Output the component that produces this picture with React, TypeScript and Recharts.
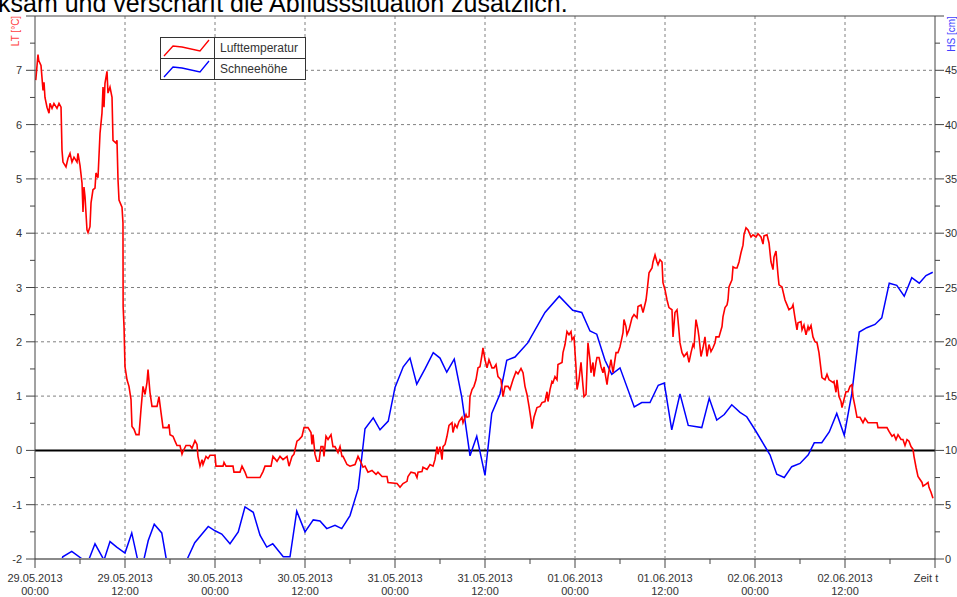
import { LineChart, Line, XAxis, YAxis, ReferenceLine, CartesianGrid } from "recharts";

// Lufttemperatur [°C], x = Stunden ab 29.05.2013 00:00
const TEMP: [number, number][] = [
  [0.1,6.82],[0.4,7.29],[0.5,7.18],[0.8,7.09],[1.07,6.63],[1.2,6.78],[1.33,6.5],[1.6,6.32],[1.87,6.21],[2.0,6.39],
  [2.27,6.3],[2.53,6.39],[2.93,6.3],[3.2,6.39],[3.47,6.32],[3.6,5.53],[3.73,5.31],[4.13,5.22],[4.4,5.38],[4.67,5.47],
  [4.93,5.31],[5.2,5.4],[5.6,5.31],[5.73,5.47],[6.0,5.25],[6.27,4.92],[6.4,4.39],[6.53,4.85],[6.67,4.67],[6.93,4.06],
  [7.07,4.01],[7.33,4.12],[7.47,4.56],[7.73,4.8],[8.0,4.83],[8.13,5.11],[8.4,5.02],[8.67,5.84],[8.93,6.21],[9.07,6.69],
  [9.2,6.32],[9.33,6.76],[9.6,6.98],[9.73,6.58],[10.0,6.69],[10.27,6.5],[10.4,5.71],[10.8,5.66],[10.93,5.71],[11.07,4.98],
  [11.2,4.61],[11.6,4.48],[11.73,4.19],[11.75,2.65],[11.87,2.28],[12.0,1.54],[12.27,1.3],[12.53,1.18],[12.8,0.94],[12.93,0.44],
  [13.2,0.39],[13.47,0.29],[13.87,0.29],[14.13,0.75],[14.4,1.18],[14.67,1.03],[14.93,1.25],[15.07,1.49],[15.33,1.07],[15.6,0.81],
  [16.27,0.81],[16.53,0.99],[16.8,0.7],[17.07,0.42],[17.73,0.42],[17.87,0.48],[18.0,0.29],[18.4,0.26],[18.67,0.17],[18.93,0.09],
  [19.33,0.09],[19.6,-0.07],[19.73,-0.02],[20.13,0.09],[20.67,0.09],[20.93,0.04],[21.33,0.18],[21.6,0.11],[21.73,-0.11],[22.0,-0.29],
  [22.27,-0.17],[22.4,-0.26],[22.8,-0.11],[23.07,-0.15],[23.33,-0.09],[24.0,-0.09],[24.13,-0.29],[25.07,-0.29],[25.2,-0.22],[25.47,-0.29],
  [26.4,-0.29],[26.53,-0.4],[27.33,-0.4],[27.6,-0.29],[28.0,-0.4],[28.27,-0.5],[30.0,-0.5],[30.4,-0.39],[30.67,-0.29],[31.47,-0.29],
  [31.73,-0.11],[32.27,-0.2],[32.67,-0.11],[33.07,-0.17],[33.6,-0.11],[33.87,-0.29],[34.27,-0.11],[34.53,-0.07],[34.93,0.17],[35.2,0.2],
  [35.6,0.26],[35.87,0.42],[36.4,0.42],[36.8,0.33],[36.93,0.11],[37.07,0.29],[37.33,-0.07],[37.6,-0.2],[37.87,-0.2],[38.13,0.07],
  [38.4,0.07],[38.53,-0.11],[38.8,0.26],[39.07,0.2],[39.47,0.29],[39.73,0.07],[40.0,0.07],[40.4,-0.04],[40.67,0.07],[40.93,-0.11],
  [41.07,-0.11],[41.6,-0.26],[42.0,-0.29],[42.67,-0.26],[43.07,-0.11],[43.47,-0.22],[43.73,-0.31],[44.0,-0.29],[44.4,-0.4],[44.93,-0.37],
  [45.47,-0.44],[45.73,-0.4],[46.27,-0.48],[46.93,-0.48],[47.07,-0.59],[48.27,-0.61],[48.67,-0.68],[49.07,-0.61],[49.6,-0.57],[49.73,-0.48],
  [50.13,-0.4],[50.67,-0.42],[50.93,-0.5],[51.07,-0.4],[51.6,-0.39],[51.73,-0.31],[52.27,-0.35],[52.67,-0.26],[53.07,-0.29],[53.33,-0.17],
  [53.6,0.07],[53.73,-0.07],[54.0,0.07],[54.27,-0.17],[54.4,0.07],[54.67,0.11],[54.93,0.26],[55.2,0.46],[55.6,0.51],[55.73,0.33],
  [56.0,0.48],[56.27,0.42],[56.53,0.53],[56.93,0.61],[57.07,0.51],[57.47,0.66],[57.6,0.61],[57.87,0.62],[58.0,0.99],[58.27,1.12],
  [58.53,1.18],[58.8,1.3],[59.07,1.52],[59.33,1.54],[59.6,1.76],[59.73,1.89],[60.0,1.67],[60.27,1.52],[60.53,1.67],[60.93,1.52],
  [61.2,1.52],[61.47,1.58],[61.73,1.36],[62.13,1.3],[62.4,0.99],[62.67,1.18],[63.07,1.18],[63.33,1.12],[63.73,1.3],[64.13,1.45],
  [64.4,1.41],[64.8,1.51],[65.07,1.43],[65.33,1.18],[65.6,1.03],[65.87,0.81],[66.13,0.57],[66.27,0.4],[66.53,0.61],[66.93,0.79],
  [67.33,0.81],[67.6,0.88],[68.0,0.9],[68.27,1.08],[68.4,0.9],[68.67,1.12],[68.93,1.27],[69.07,1.25],[69.33,1.36],[69.6,1.3],
  [69.73,1.58],[70.27,1.62],[70.4,1.8],[70.67,1.95],[70.93,2.19],[71.2,2.13],[71.47,2.19],[71.6,2.04],[71.87,2.09],[72.13,1.54],
  [72.27,1.12],[72.53,1.3],[72.8,1.62],[73.07,1.18],[73.2,0.99],[73.47,1.03],[73.73,1.98],[74.0,1.67],[74.13,1.43],[74.4,1.62],
  [74.53,1.36],[74.8,1.62],[74.93,1.71],[75.2,1.71],[75.47,1.54],[75.73,1.43],[75.87,1.54],[76.27,1.21],[76.4,1.36],[76.8,1.67],
  [77.07,1.43],[77.47,1.8],[77.73,1.8],[78.0,1.91],[78.4,2.17],[78.53,2.41],[78.8,2.28],[78.93,2.13],[79.2,2.22],[79.6,2.44],
  [79.87,2.5],[80.27,2.44],[80.4,2.65],[80.8,2.68],[81.07,2.54],[81.47,2.77],[81.6,2.92],[81.87,3.27],[82.27,3.36],[82.4,3.47],
  [82.67,3.6],[82.93,3.47],[83.07,3.42],[83.33,3.51],[83.6,3.47],[83.73,3.09],[84.0,2.96],[84.27,2.77],[84.53,2.63],[84.93,2.59],
  [85.07,2.09],[85.33,2.54],[85.6,2.59],[85.73,2.41],[86.0,1.98],[86.27,1.8],[86.53,1.73],[86.93,1.8],[87.2,1.62],[87.47,1.8],
  [87.73,1.95],[87.87,1.91],[88.13,2.41],[88.4,2.22],[88.53,2.09],[88.8,1.73],[89.07,1.89],[89.33,2.09],[89.6,1.73],[89.87,1.95],
  [90.13,1.82],[90.4,1.89],[90.67,1.98],[90.8,2.09],[91.2,2.09],[91.6,2.28],[91.73,2.46],[92.0,2.63],[92.27,2.68],[92.4,2.77],
  [92.53,3.01],[92.93,3.14],[93.07,3.38],[93.33,3.36],[93.6,3.36],[93.87,3.47],[94.13,3.64],[94.4,3.78],[94.53,3.97],[94.8,4.1],
  [95.07,4.06],[95.47,3.93],[95.73,3.97],[96.13,3.93],[96.4,3.99],[96.8,3.93],[97.07,3.8],[97.2,3.95],[97.6,3.97],[97.87,3.82],
  [98.13,3.47],[98.4,3.33],[98.53,3.56],[98.8,3.67],[99.07,3.23],[99.2,3.05],[99.6,3.01],[100.0,2.77],[100.27,2.68],[100.53,2.59],
  [100.93,2.63],[101.07,2.68],[101.33,2.44],[101.6,2.22],[101.73,2.35],[102.13,2.37],[102.27,2.22],[102.53,2.31],[102.8,2.13],[103.07,2.28],
  [103.2,2.22],[103.47,2.3],[103.73,2.09],[104.0,2.0],[104.27,1.98],[104.53,1.8],[104.93,1.34],[105.33,1.3],[105.6,1.4],[105.87,1.3],
  [106.4,1.25],[106.53,1.27],[106.8,1.07],[106.93,1.3],[107.2,0.99],[107.47,0.9],[107.6,0.79],[107.87,0.94],[108.13,1.08],[108.4,1.08],
  [108.67,1.18],[108.93,1.21],[109.07,0.99],[109.33,0.81],[109.6,0.61],[110.0,0.61],[110.4,0.51],[110.67,0.59],[111.07,0.51],[112.27,0.51],
  [112.4,0.42],[113.6,0.42],[113.87,0.35],[114.27,0.26],[114.53,0.29],[114.8,0.2],[115.07,0.29],[115.47,0.2],[115.73,0.2],[116.0,0.09],
  [116.27,0.2],[116.53,0.17],[116.8,0.07],[117.07,0.02],[117.2,-0.11],[117.47,-0.31],[117.73,-0.48],[118.27,-0.59],[118.4,-0.66],[118.8,-0.62],
  [119.07,-0.59],[119.2,-0.68],[119.47,-0.77],[119.73,-0.88],
];

// Schneehöhe [cm]
const SNOW: [number, number][] = [
  [3.0,-1.5],[3.7,0.2],[4.9,0.7],[6.3,0],[7.1,-0.2],[8.0,1.4],[9.2,-0.1],[10.0,1.6],[10.9,1.1],[12.0,0.55],
  [12.9,2.4],[13.6,0.2],[14.1,-1.3],[15.1,1.7],[15.9,3.2],[16.9,2.4],[17.5,0],[18.2,-2.5],[19.4,-1.0],[20.3,0],
  [21.3,1.5],[23.1,3.0],[24.0,2.6],[24.9,2.3],[26.0,1.4],[27.1,2.5],[28.0,4.8],[29.1,4.3],[30.0,2.2],[30.9,1.1],
  [31.7,1.4],[33.1,0.2],[34.0,0.2],[34.9,4.4],[36.0,2.5],[37.1,3.6],[38.0,3.5],[38.9,2.8],[40.0,3.1],[40.9,2.8],
  [42.0,4.0],[43.1,6.5],[44.0,12.0],[45.1,13.0],[46.0,11.9],[47.1,12.7],[48.0,15.8],[49.1,17.7],[50.0,18.5],[50.9,16.1],
  [52.0,17.5],[53.1,19.0],[54.0,18.5],[54.9,17.2],[55.9,18.4],[56.9,14.9],[58.0,9.5],[58.9,11.3],[60.0,7.7],[60.9,13.4],
  [62.0,15.2],[62.9,18.3],[64.0,18.6],[65.7,19.9],[68.0,22.7],[69.9,24.2],[71.7,22.9],[72.9,22.7],[74.0,21.0],[74.9,20.7],
  [76.0,18.3],[76.9,17.0],[78.0,17.6],[79.9,14.0],[80.9,14.4],[82.0,14.4],[83.1,16.0],[83.9,16.2],[84.9,11.9],[86.0,15.2],
  [87.1,12.3],[88.9,12.1],[89.9,14.8],[90.9,12.8],[91.9,13.3],[92.9,14.2],[94.0,13.5],[94.9,13.1],[96.0,11.9],[98.0,9.6],
  [98.9,7.8],[99.9,7.5],[100.9,8.5],[102.0,8.8],[103.1,9.6],[103.9,10.7],[104.9,10.7],[105.9,11.7],[106.9,13.4],[107.9,11.4],
  [108.9,15.2],[109.9,20.9],[110.9,21.3],[112.0,21.6],[112.9,22.2],[113.9,25.4],[114.9,25.2],[115.9,24.2],[116.9,25.9],[117.9,25.4],
  [118.8,26.1],[119.7,26.4],
];

const X_TICKS = [0, 6, 12, 18, 24, 30, 36, 42, 48, 54, 60, 66, 72, 78, 84, 90, 96, 102, 108, 114, 120];
const X_MAJOR = [0, 12, 24, 36, 48, 60, 72, 84, 96, 108, 120];
const X_DATES = ["29.05.2013", "29.05.2013", "30.05.2013", "30.05.2013", "31.05.2013", "31.05.2013",
  "01.06.2013", "01.06.2013", "02.06.2013", "02.06.2013", "Zeit t"];
const X_TIMES = ["00:00", "12:00", "00:00", "12:00", "00:00", "12:00", "00:00", "12:00", "00:00", "12:00", ""];
const X_GRID = [12, 24, 36, 48, 60, 72, 84, 96, 108];

const LT_TICKS = [-2, -1.5, -1, -0.5, 0, 0.5, 1, 1.5, 2, 2.5, 3, 3.5, 4, 4.5, 5, 5.5, 6, 6.5, 7, 7.5, 8];
const LT_GRID = [-1, 1, 2, 3, 4, 5, 6, 7];
const HS_TICKS = [0, 2.5, 5, 7.5, 10, 12.5, 15, 17.5, 20, 22.5, 25, 27.5, 30, 32.5, 35, 37.5, 40, 42.5, 45, 47.5, 50];

const FONT = "'Liberation Sans', Arial, sans-serif";
const AXIS = "#444";

const tempData = TEMP.map(([t, lt]) => ({ t, lt }));
const snowData = SNOW.map(([t, hs]) => ({ t, hs }));

const XTick = (props: any) => {
  const { x, y, payload } = props;
  const i = X_MAJOR.indexOf(payload.value);
  if (i < 0) return <line x1={x} x2={x} y1={y} y2={y + 5} stroke={AXIS} />;
  const last = i === X_MAJOR.length - 1;
  return (
    <g>
      <line x1={x} x2={x} y1={y} y2={y + 9} stroke={AXIS} />
      <text x={last ? x - 9 : x} y={y + 23} textAnchor="middle" fontSize={11} fill="#333" fontFamily={FONT}>
        {X_DATES[i]}
      </text>
      {X_TIMES[i] && (
        <text x={x} y={y + 36} textAnchor="middle" fontSize={11} fill="#333" fontFamily={FONT}>
          {X_TIMES[i]}
        </text>
      )}
    </g>
  );
};

const LtTick = (props: any) => {
  const { x, y, payload } = props;
  const v = payload.value;
  const major = Number.isInteger(v);
  return (
    <g>
      <line x1={x - (major ? 9 : 5)} x2={x} y1={y} y2={y} stroke={AXIS} />
      {major && v < 8 && (
        <text x={x - 13} y={y + 4} textAnchor="end" fontSize={11} fill="#333" fontFamily={FONT}>
          {v}
        </text>
      )}
    </g>
  );
};

const HsTick = (props: any) => {
  const { x, y, payload } = props;
  const v = payload.value;
  const major = v % 5 === 0;
  return (
    <g>
      <line x1={x} x2={x + (major ? 9 : 5)} y1={y} y2={y} stroke={AXIS} />
      {major && v < 50 && (
        <text x={x + 10} y={y + 4} textAnchor="start" fontSize={11} fill="#333" fontFamily={FONT}>
          {v}
        </text>
      )}
    </g>
  );
};

const LegendIcon = ({ color }: { color: string }) => (
  <svg width={53} height={20} style={{ display: "block" }}>
    <polyline points="3,18 12,8 21,9 39,13 48,2" fill="none" stroke={color} strokeWidth={1.3} />
  </svg>
);

export default function App() {
  return (
    <div style={{ position: "absolute", left: 0, top: 0, width: 957, height: 597, background: "#fff", overflow: "hidden", fontFamily: FONT }}>
      <LineChart width={957} height={597} margin={{ top: 16, right: 0, bottom: 0, left: 0 }}>
        <CartesianGrid
          xAxisId="x"
          yAxisId="lt"
          horizontalValues={LT_GRID}
          verticalValues={X_GRID}
          stroke="#808080"
          strokeDasharray="3 3"
        />
        <XAxis
          xAxisId="x"
          dataKey="t"
          type="number"
          domain={[0, 120]}
          ticks={X_TICKS}
          interval={0}
          allowDataOverflow
          height={38}
          tickSize={0}
          tickMargin={0}
          tickLine={false}
          tick={<XTick />}
          axisLine={{ stroke: "#8a8a8a", strokeWidth: 2 }}
        />
        <YAxis
          yAxisId="lt"
          orientation="left"
          type="number"
          domain={[-2, 8]}
          ticks={LT_TICKS}
          interval={0}
          allowDataOverflow
          width={35}
          tickSize={0}
          tickMargin={0}
          tickLine={false}
          tick={<LtTick />}
          axisLine={{ stroke: AXIS }}
        />
        <YAxis
          yAxisId="hs"
          orientation="right"
          type="number"
          domain={[0, 50]}
          ticks={HS_TICKS}
          interval={0}
          allowDataOverflow
          width={22}
          tickSize={0}
          tickMargin={0}
          tickLine={false}
          tick={<HsTick />}
          axisLine={{ stroke: AXIS }}
        />
        <ReferenceLine xAxisId="x" yAxisId="lt" y={8} stroke={AXIS} />
        <ReferenceLine xAxisId="x" yAxisId="lt" y={0} stroke="#000" strokeWidth={2} />
        <Line
          xAxisId="x"
          yAxisId="hs"
          data={snowData}
          dataKey="hs"
          type="linear"
          stroke="#0000ff"
          strokeWidth={1.5}
          dot={false}
          isAnimationActive={false}
        />
        <Line
          xAxisId="x"
          yAxisId="lt"
          data={tempData}
          dataKey="lt"
          type="linear"
          stroke="#ff0000"
          strokeWidth={1.6}
          dot={false}
          isAnimationActive={false}
        />
      </LineChart>

      <svg width={957} height={597} style={{ position: "absolute", left: 0, top: 0, pointerEvents: "none" }}>
        <text x={-2} y={12} fontSize={25} fill="#000" fontFamily={FONT}>
          ksam und verschärft die Abflusssituation zusätzlich.
        </text>
        <text transform="translate(19,31) rotate(-90)" textAnchor="middle" fontSize={10} fill="#ff4040" fontFamily={FONT}>
          LT [°C]
        </text>
        <text transform="translate(955,34) rotate(-90)" textAnchor="middle" fontSize={10} fill="#4040ff" fontFamily={FONT}>
          HS [cm]
        </text>
      </svg>

      <div
        style={{
          position: "absolute",
          left: 160,
          top: 37,
          width: 144,
          border: "1px solid #333",
          background: "#fff",
          fontSize: 12,
          color: "#333",
        }}
      >
        {[
          { label: "Lufttemperatur", color: "#ff0000" },
          { label: "Schneehöhe", color: "#0000ff" },
        ].map((s, i) => (
          <div key={s.label} style={{ display: "flex", height: 20, borderTop: i ? "1px solid #333" : "none" }}>
            <div style={{ width: 53, borderRight: "1px solid #333" }}>
              <LegendIcon color={s.color} />
            </div>
            <div style={{ paddingLeft: 5, lineHeight: "20px" }}>{s.label}</div>
          </div>
        ))}
      </div>
    </div>
  );
}
